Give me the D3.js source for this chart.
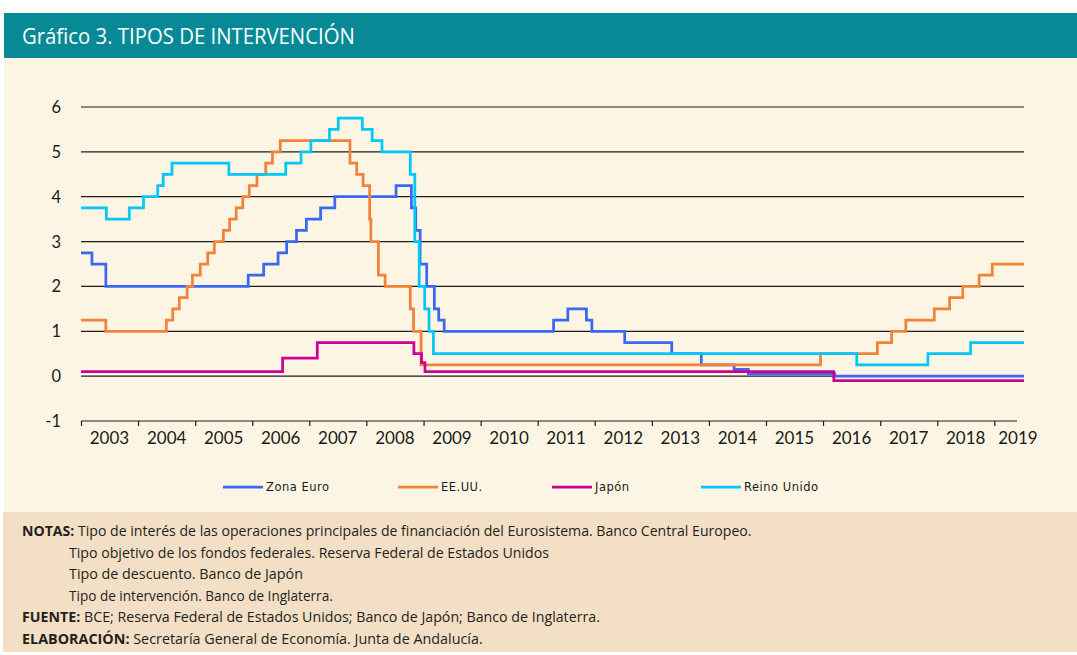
<!DOCTYPE html>
<html>
<head>
<meta charset="utf-8">
<script src="https://cdn.jsdelivr.net/npm/d3@7"></script>
<style>
  body { margin: 0; background: #fff; }
  svg { display: block; }
</style>
</head>
<body>
<script>
// tipos de intervención: fecha de cambio, nivel (%)
var zonaEuro = [
  ["2003-01-01", 2.75], ["2003-03-12", 2.50], ["2003-06-09", 2.00], ["2005-12-06", 2.25],
  ["2006-03-15", 2.50], ["2006-06-15", 2.75], ["2006-08-09", 3.00], ["2006-10-11", 3.25],
  ["2006-12-13", 3.50], ["2007-03-14", 3.75], ["2007-06-13", 4.00], ["2008-07-09", 4.25],
  ["2008-10-15", 3.75], ["2008-11-12", 3.25], ["2008-12-10", 2.50], ["2009-01-21", 2.00],
  ["2009-03-11", 1.50], ["2009-04-08", 1.25], ["2009-05-13", 1.00], ["2011-04-13", 1.25],
  ["2011-07-13", 1.50], ["2011-11-09", 1.25], ["2011-12-14", 1.00], ["2012-07-11", 0.75],
  ["2013-05-08", 0.50], ["2013-11-13", 0.25], ["2014-06-11", 0.15], ["2014-09-10", 0.05],
  ["2016-03-16", 0.00], ["2019-07-10", 0.00]
];
var eeuu = [
  ["2003-01-01", 1.25], ["2003-06-09", 1.00], ["2004-06-30", 1.25], ["2004-08-10", 1.50],
  ["2004-09-21", 1.75], ["2004-11-10", 2.00], ["2004-12-14", 2.25], ["2005-02-02", 2.50],
  ["2005-03-22", 2.75], ["2005-05-03", 3.00], ["2005-06-30", 3.25], ["2005-08-09", 3.50],
  ["2005-09-20", 3.75], ["2005-11-01", 4.00], ["2005-12-13", 4.25], ["2006-01-31", 4.50],
  ["2006-03-28", 4.75], ["2006-05-10", 5.00], ["2006-06-29", 5.25], ["2007-09-18", 4.75],
  ["2007-10-31", 4.50], ["2007-12-11", 4.25], ["2008-01-22", 3.50], ["2008-01-30", 3.00],
  ["2008-03-18", 2.25], ["2008-04-30", 2.00], ["2008-10-08", 1.50], ["2008-10-29", 1.00],
  ["2008-12-16", 0.25], ["2015-12-16", 0.50], ["2016-12-14", 0.75], ["2017-03-15", 1.00],
  ["2017-06-14", 1.25], ["2017-12-13", 1.50], ["2018-03-21", 1.75], ["2018-06-13", 2.00],
  ["2018-09-26", 2.25], ["2018-12-19", 2.50], ["2019-07-10", 2.50]
];
var japon = [
  ["2003-01-01", 0.10], ["2006-07-14", 0.40], ["2007-02-21", 0.75], ["2008-10-31", 0.50],
  ["2008-12-19", 0.30], ["2009-01-10", 0.10], ["2016-03-10", -0.10], ["2019-07-10", -0.10]
];
var reinoUnido = [
  ["2003-01-01", 3.75], ["2003-06-12", 3.50], ["2003-11-06", 3.75], ["2004-02-05", 4.00],
  ["2004-05-06", 4.25], ["2004-06-10", 4.50], ["2004-08-05", 4.75], ["2005-08-04", 4.50],
  ["2006-08-03", 4.75], ["2006-11-09", 5.00], ["2007-01-11", 5.25], ["2007-05-10", 5.50],
  ["2007-07-05", 5.75], ["2007-12-06", 5.50], ["2008-02-07", 5.25], ["2008-04-10", 5.00],
  ["2008-10-08", 4.50], ["2008-11-06", 3.00], ["2008-12-04", 2.00], ["2009-01-08", 1.50],
  ["2009-02-05", 1.00], ["2009-03-05", 0.50], ["2016-08-04", 0.25], ["2017-11-02", 0.50],
  ["2018-08-02", 0.75], ["2019-07-10", 0.75]
];

var seriesNames = ["Zona Euro", "EE.UU.", "Japón", "Reino Unido"];
var seriesData = [zonaEuro, eeuu, japon, reinoUnido];
var seriesColors = ["#3a68f2", "#f0823a", "#cc0099", "#00c8f8"];
var years = d3.range(2003, 2020);
var yTicks = [-1, 0, 1, 2, 3, 4, 5, 6];

var notas = [
  ["NOTAS:", " Tipo de interés de las operaciones principales de financiación del Eurosistema. Banco Central Europeo."],
  ["", "Tipo objetivo de los fondos federales. Reserva Federal de Estados Unidos"],
  ["", "Tipo de descuento. Banco de Japón"],
  ["", "Tipo de intervención. Banco de Inglaterra."],
  ["FUENTE:", " BCE; Reserva Federal de Estados Unidos; Banco de Japón; Banco de Inglaterra."],
  ["ELABORACIÓN:", " Secretaría General de Economía. Junta de Andalucía."]
];
var notasWidth = [730, 480, 234, 264, 578, 461];

var W = 1077, H = 655;
var parse = d3.timeParse("%Y-%m-%d");

var svg = d3.select("body").append("svg")
    .attr("width", W)
    .attr("height", H);

// paneles
svg.append("rect").attr("x", 4).attr("y", 58).attr("width", W - 4).attr("height", 454).attr("fill", "#fdf5e3");
svg.append("rect").attr("x", 3).attr("y", 512).attr("width", W - 3).attr("height", 140).attr("fill", "#f2dfc5");
svg.append("rect").attr("x", 4).attr("y", 13).attr("width", W - 4).attr("height", 45).attr("fill", "#078a96");

// escala horizontal de ajuste de texto
function fit(sel, x, y, w) {
  var bw = sel.node().getBBox().width;
  sel.attr("transform", "translate(" + x + "," + y + ") scale(" + (w / bw) + ",1)");
}

var title = svg.append("text")
    .attr("fill", "#fff")
    .style("font-family", "'Open Sans'")
    .style("font-size", "21px")
    .text("Gráfico 3. TIPOS DE INTERVENCIÓN");
fit(title, 22, 44, 333);

var x = d3.scaleTime()
    .domain([parse("2003-01-01"), parse("2019-07-10")])
    .range([81, 1024]);

var y = d3.scaleLinear()
    .domain([-1, 6])
    .range([421, 107]);

// rejilla
svg.append("g")
  .selectAll("line")
    .data(yTicks.filter(function(d) { return d >= 0; }))
  .enter().append("line")
    .attr("x1", 81).attr("x2", 1024)
    .attr("y1", function(d) { return y(d); })
    .attr("y2", function(d) { return y(d); })
    .attr("stroke", "#1e1e1e")
    .attr("stroke-width", 1.2);

// eje y (solo etiquetas)
svg.append("g")
  .selectAll("text")
    .data(yTicks)
  .enter().append("text")
    .attr("x", 61)
    .attr("y", function(d) { return y(d); })
    .attr("dy", "0.36em")
    .attr("text-anchor", "end")
    .attr("fill", "#1a1a1a")
    .style("font-family", "Lato")
    .style("font-size", "16.5px")
    .text(function(d) { return d; });

// eje x
var xAxis = d3.axisBottom(x)
    .tickValues(years.map(function(d) { return new Date(d, 0, 1); }))
    .tickSize(5)
    .tickSizeOuter(0)
    .tickFormat("");

var gx = svg.append("g")
    .attr("transform", "translate(0," + y(-1) + ")")
    .call(xAxis);
gx.select(".domain").attr("d", "M81,0H1017").attr("stroke", "#1e1e1e").attr("stroke-width", 1.2);
gx.selectAll(".tick line").attr("stroke", "#1e1e1e").attr("stroke-width", 1.2);

svg.append("g")
  .selectAll("text")
    .data(years)
  .enter().append("text")
    .attr("x", function(d) { return d < 2019 ? x(new Date(d, 6, 2)) : x(new Date(d, 5, 1)); })
    .attr("y", 444)
    .attr("text-anchor", "middle")
    .attr("fill", "#1a1a1a")
    .style("font-family", "Lato")
    .style("font-size", "17px")
    .text(function(d) { return d; });

// series
var line = d3.line()
    .curve(d3.curveStepAfter)
    .x(function(d) { return x(parse(d[0])); })
    .y(function(d) { return y(d[1]); });

svg.append("g")
  .selectAll("path")
    .data(seriesData)
  .enter().append("path")
    .attr("d", line)
    .attr("fill", "none")
    .attr("stroke", function(d, i) { return seriesColors[i]; })
    .attr("stroke-width", 2.75)
    .attr("stroke-linejoin", "miter");

// leyenda
var legendX = [223, 398, 552, 701];
var legend = svg.append("g")
  .selectAll("g")
    .data(seriesNames)
  .enter().append("g")
    .attr("transform", function(d, i) { return "translate(" + legendX[i] + ",487)"; });
legend.append("line")
    .attr("x1", 0).attr("x2", 40)
    .attr("stroke", function(d, i) { return seriesColors[i]; })
    .attr("stroke-width", 2.75);
legend.append("text")
    .attr("x", 43)
    .attr("dy", "0.35em")
    .attr("fill", "#1a1a1a")
    .style("font-family", "'DejaVu Sans'")
    .style("font-size", "11.5px")
    .style("letter-spacing", "0.5px")
    .text(function(d) { return d; });

// notas
notas.forEach(function(n, i) {
  var t = svg.append("text")
      .attr("fill", "#231f20")
      .style("font-family", "'Open Sans'")
      .style("font-size", "15px");
  if (n[0]) {
    t.append("tspan").style("font-weight", "bold").text(n[0]);
  }
  t.append("tspan").text(n[1]);
  fit(t, n[0] ? 22 : 69, 536 + i * 21.6, notasWidth[i]);
});
</script>
</body>
</html>
